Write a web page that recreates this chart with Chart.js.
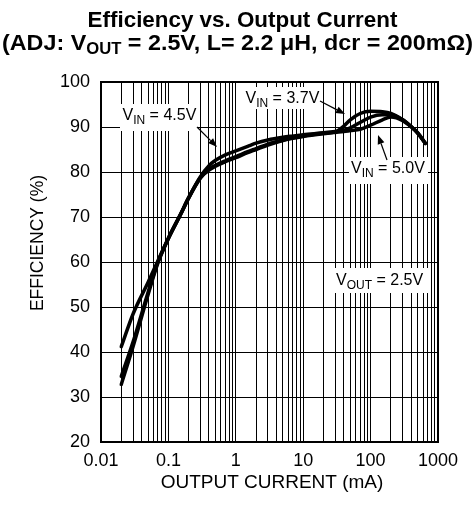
<!DOCTYPE html>
<html>
<head>
<meta charset="utf-8">
<script src="https://cdn.jsdelivr.net/npm/chart.js@4.4.1/dist/chart.umd.min.js"></script>
<style>
html,body{margin:0;padding:0;background:#fff;}
canvas{display:block;}
</style>
</head>
<body>
<canvas id="c" width="476" height="506"></canvas>
<script>
// ---- data ----
const currentMA = [0.02, 0.03, 0.05, 0.07, 0.1, 0.15, 0.2, 0.3, 0.4, 0.5, 0.7, 1, 1.5, 2, 3, 5, 7, 10, 20, 30, 40, 50, 70, 100, 150, 200, 300, 400, 500, 650];
const effVin37 = [41.2, 48.5, 55.5, 60.3, 65.3, 70.5, 74.3, 78.7, 80.6, 81.5, 82.5, 83.4, 84.5, 85.2, 86.2, 87.1, 87.6, 88.0, 88.6, 88.9, 90.2, 91.6, 93.0, 93.5, 93.4, 93.0, 91.6, 90.1, 88.7, 86.4];
const effVin45 = [34.6, 42.3, 53.3, 60.0, 65.3, 70.5, 74.3, 79.0, 81.4, 82.6, 83.8, 84.7, 85.7, 86.4, 87.1, 87.7, 88.0, 88.3, 88.7, 89.0, 89.3, 89.8, 91.0, 92.2, 92.7, 92.7, 91.6, 90.1, 88.7, 86.4];
const effVin50 = [32.8, 41.3, 52.8, 59.8, 65.2, 70.4, 74.2, 78.8, 80.4, 81.3, 82.3, 83.2, 84.3, 85.0, 86.0, 87.0, 87.5, 87.9, 88.5, 88.8, 89.0, 89.2, 89.5, 90.4, 91.6, 92.2, 91.4, 90.0, 88.6, 86.3];
const xDecades = [0.01, 0.1, 1, 10, 100];
const xMultipliers = [1, 2, 3, 4, 5, 6, 7, 8, 9];
const xTickValues = [0.01, 0.1, 1, 10, 100, 1000];
const xTickLabels = ['0.01', '0.1', '1', '10', '100', '1000'];
const yTickStep = 10;

const FONT = '"Liberation Sans", Arial, Helvetica, sans-serif';

const xGridValues = [];
xDecades.forEach(d => xMultipliers.forEach(m => xGridValues.push(d * m)));
xGridValues.push(1000);

function toPts(ys) { return currentMA.map((x, i) => ({x: x, y: ys[i]})); }

function lineDs(ys) {
  return {data: toPts(ys), borderColor: '#000', borderWidth: 3.5, pointRadius: 0,
          fill: false, cubicInterpolationMode: 'monotone', borderCapStyle: 'round', borderJoinStyle: 'round'};
}

function drawSub(ctx, x, y, main, sub, rest, size) {
  ctx.textAlign = 'left';
  ctx.textBaseline = 'alphabetic';
  ctx.font = size + 'px ' + FONT;
  ctx.fillText(main, x, y);
  let w = ctx.measureText(main).width;
  ctx.font = Math.round(size * 0.72) + 'px ' + FONT;
  ctx.fillText(sub, x + w, y + size * 0.22);
  w += ctx.measureText(sub).width;
  ctx.font = size + 'px ' + FONT;
  ctx.fillText(rest, x + w, y);
}

function arrow(ctx, x1, y1, x2, y2) {
  ctx.save();
  ctx.strokeStyle = '#000';
  ctx.fillStyle = '#000';
  ctx.lineWidth = 1.2;
  const a = Math.atan2(y2 - y1, x2 - x1);
  const L = 9, W = 3.5;
  const bx = x2 - L * Math.cos(a), by = y2 - L * Math.sin(a);
  ctx.beginPath(); ctx.moveTo(x1, y1); ctx.lineTo(bx, by); ctx.stroke();
  ctx.beginPath();
  ctx.moveTo(x2, y2);
  ctx.lineTo(bx + W * Math.sin(a), by - W * Math.cos(a));
  ctx.lineTo(bx - W * Math.sin(a), by + W * Math.cos(a));
  ctx.closePath(); ctx.fill();
  ctx.restore();
}

const decor = {
  id: 'decor',
  beforeDatasetsDraw(chart) {
    const ctx = chart.ctx, a = chart.chartArea;
    ctx.save();
    ctx.strokeStyle = '#000';
    ctx.lineWidth = 2;
    ctx.strokeRect(a.left, a.top, a.right - a.left, a.bottom - a.top);
    // label boxes
    ctx.fillStyle = '#fff';
    ctx.fillRect(120, 104, 77, 27);
    ctx.fillRect(243, 87, 80, 22);
    ctx.fillRect(349, 157, 79, 27);
    ctx.fillRect(333, 268, 95, 25);
    ctx.restore();
  },
  afterDatasetsDraw(chart) {
    const ctx = chart.ctx;
    ctx.save();
    ctx.fillStyle = '#000';
    drawSub(ctx, 122.5, 120, 'V', 'IN', ' = 4.5V', 16);
    drawSub(ctx, 245.5, 103, 'V', 'IN', ' = 3.7V', 16);
    drawSub(ctx, 351, 173, 'V', 'IN', ' = 5.0V', 16);
    drawSub(ctx, 336, 285, 'V', 'OUT', ' = 2.5V', 16);
    arrow(ctx, 197, 127, 217, 147);
    arrow(ctx, 320, 101, 345, 114);
    arrow(ctx, 387, 160, 378, 135);
    ctx.restore();
  },
  afterDraw(chart) {
    const ctx = chart.ctx;
    ctx.save();
    ctx.fillStyle = '#000';
    // title line 1
    ctx.textAlign = 'center';
    ctx.textBaseline = 'alphabetic';
    ctx.font = 'bold 22.4px ' + FONT;
    ctx.fillText('Efficiency vs. Output Current', 242.5, 27);
    // title line 2 with subscript, fitted to the reference width
    const s = 22.4, ss = 16;
    const p1 = '(ADJ: V', p2 = 'OUT', p3 = ' = 2.5V, L= 2.2 \u03BCH, dcr = 200m\u03A9)';
    ctx.font = 'bold ' + s + 'px ' + FONT;
    const w1 = ctx.measureText(p1).width, w3 = ctx.measureText(p3).width;
    ctx.font = 'bold ' + ss + 'px ' + FONT;
    const w2 = ctx.measureText(p2).width;
    const total = w1 + w2 + w3;
    const targetW = 471;
    ctx.save();
    ctx.translate(2, 0);
    ctx.scale(targetW / total, 1);
    ctx.textAlign = 'left';
    ctx.font = 'bold ' + s + 'px ' + FONT;
    ctx.fillText(p1, 0, 50);
    ctx.font = 'bold ' + ss + 'px ' + FONT;
    ctx.fillText(p2, w1, 54);
    ctx.font = 'bold ' + s + 'px ' + FONT;
    ctx.fillText(p3, w1 + w2, 50);
    ctx.restore();
    // axis titles
    ctx.textAlign = 'center';
    ctx.font = '19px ' + FONT;
    ctx.fillText('OUTPUT CURRENT (mA)', 272, 488);
    ctx.translate(43, 243);
    ctx.rotate(-Math.PI / 2);
    ctx.font = '17.5px ' + FONT;
    ctx.fillText('EFFICIENCY (%)', 0, 0);
    ctx.restore();
  }
};

new Chart(document.getElementById('c'), {
  type: 'line',
  data: {datasets: [lineDs(effVin37), lineDs(effVin45), lineDs(effVin50)]},
  options: {
    responsive: false,
    animation: false,
    devicePixelRatio: 1,
    layout: {padding: {left: 0, right: 38, top: 82, bottom: 0}},
    plugins: {legend: {display: false}, tooltip: {enabled: false}},
    scales: {
      x: {
        type: 'logarithmic', min: 0.01, max: 1000,
        afterBuildTicks: s => { s.ticks = xGridValues.map(v => ({value: v})); },
        afterFit: s => { s.height = 64; s.paddingLeft = 0; s.paddingRight = 0; },
        ticks: {
          autoSkip: false, maxRotation: 0, minRotation: 0, padding: 8, color: '#000',
          font: {size: 18, family: FONT},
          callback: v => {
            const i = xTickValues.findIndex(t => Math.abs(t - v) / t < 1e-6);
            return i >= 0 ? xTickLabels[i] : '';
          }
        },
        grid: {color: '#000', lineWidth: 1, drawTicks: false},
        border: {color: '#000', width: 2}
      },
      y: {
        min: 20, max: 100,
        afterFit: s => { s.width = 101; },
        ticks: {stepSize: yTickStep, padding: 11, color: '#000', font: {size: 18, family: FONT}},
        grid: {color: '#000', lineWidth: 1, drawTicks: false},
        border: {color: '#000', width: 2}
      }
    }
  },
  plugins: [decor]
});
</script>
</body>
</html>
